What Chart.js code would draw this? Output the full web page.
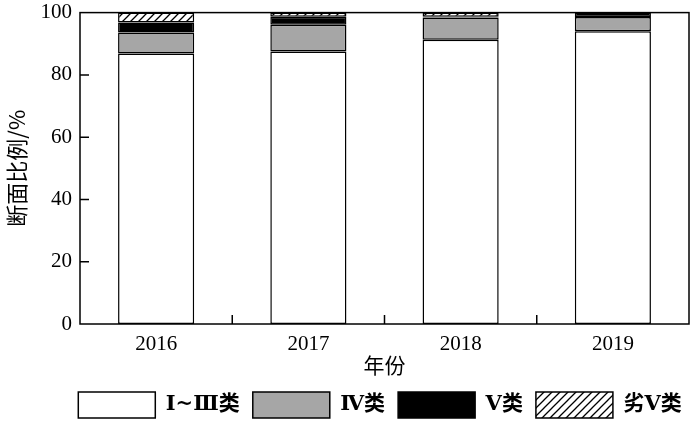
<!DOCTYPE html>
<html>
<head>
<meta charset="utf-8">
<script src="https://cdn.jsdelivr.net/npm/chart.js@4"></script>
<style>
  html, body { margin: 0; padding: 0; background: #fff; }
  #wrap { width: 700px; height: 427px; }
</style>
</head>
<body>
<div id="wrap"><canvas id="chart"></canvas></div>
<script>
const years = ['2016', '2017', '2018', '2019'];
const class1to3 = [86.9, 87.5, 91.3, 94.0];
const class4 = [6.7, 8.6, 7.1, 4.6];
const class5 = [3.2, 2.6, 0.3, 1.4];
const worseThan5 = [3.2, 1.3, 1.3, 0];
const seriesNames = ['Ⅰ~Ⅲ类', 'Ⅳ类', 'Ⅴ类', '劣Ⅴ类'];
const yTicks = [0, 20, 40, 60, 80, 100];

const serif = '"Liberation Serif", "Noto Sans CJK SC", serif';
const cjk = '"Noto Sans CJK SC", "Liberation Serif", sans-serif';
const legendFont = '"DejaVu Serif", "Noto Sans CJK SC", serif';

// diagonal hatch for the last class
function makeHatch() {
    const c = document.createElement('canvas');
    c.width = 8;
    c.height = 8;
    const g = c.getContext('2d');
    g.fillStyle = '#fff';
    g.fillRect(0, 0, 8, 8);
    g.strokeStyle = '#000';
    g.lineWidth = 1.3;
    g.beginPath();
    g.moveTo(-1, 9); g.lineTo(9, -1);
    g.moveTo(-1, 1); g.lineTo(1, -1);
    g.moveTo(7, 9); g.lineTo(9, 7);
    g.stroke();
    return g.createPattern(c, 'repeat');
}

// frame around the plot and inward ticks
const framePlugin = {
    id: 'frame',
    afterLayout(chart) {
        // widen the legend box a bit so the row stays on one line, centred under the plot
        const lg = chart.legend;
        lg.left = 44;
        lg.right = 716;
        lg.top = 379;
    },
    afterDatasetsDraw(chart) {
        const { ctx, chartArea: a, scales } = chart;
        ctx.save();
        ctx.strokeStyle = '#000';
        ctx.lineWidth = 1.5;
        ctx.strokeRect(a.left, a.top, a.right - a.left, a.bottom - a.top);
        ctx.beginPath();
        yTicks.forEach(v => {
            if (v === 0 || v === 100) return;
            const y = scales.y.getPixelForValue(v);
            ctx.moveTo(a.left, y);
            ctx.lineTo(a.left + 9, y);
        });
        for (let i = 0; i < years.length - 1; i++) {
            const x = (scales.x.getPixelForValue(i) + scales.x.getPixelForValue(i + 1)) / 2;
            ctx.moveTo(x, a.bottom);
            ctx.lineTo(x, a.bottom - 9);
        }
        ctx.stroke();
        ctx.restore();
    }
};

const hatch = makeHatch();
const fills = ['#ffffff', '#a6a6a6', '#000000', hatch];
const values = [class1to3, class4, class5, worseThan5];

new Chart(document.getElementById('chart'), {
    type: 'bar',
    data: {
        labels: years,
        datasets: values.map((d, i) => ({
            label: seriesNames[i],
            data: d,
            backgroundColor: fills[i],
            borderColor: '#000',
            borderWidth: 1.5,
            borderSkipped: false,
            categoryPercentage: 0.5,
            barPercentage: 1
        }))
    },
    options: {
        responsive: true,
        maintainAspectRatio: false,
        animation: false,
        layout: { padding: { top: 0, right: 11, left: 0, bottom: 0 } },
        plugins: {
            tooltip: { enabled: false },
            legend: {
                position: 'bottom',
                labels: {
                    boxWidth: 77,
                    boxHeight: 26,
                    padding: 13,
                    color: '#000',
                    font: { family: legendFont, size: 21, weight: 'bold' }
                }
            }
        },
        scales: {
            x: {
                stacked: true,
                grid: { display: false },
                border: { display: false },
                ticks: { color: '#000', padding: 0, font: { family: serif, size: 21 } },
                title: {
                    display: true,
                    text: '年份',
                    color: '#000',
                    padding: { top: 0, bottom: 0 },
                    font: { family: cjk, size: 21 }
                },
                afterFit(s) {
                    s.height = 427 - 324 - s.chart.legend.height;
                }
            },
            y: {
                stacked: true,
                min: 0,
                max: 100,
                grid: { display: false },
                border: { display: false },
                afterBuildTicks(s) {
                    s.ticks = yTicks.map(v => ({ value: v }));
                },
                ticks: { color: '#000', padding: 0, font: { family: serif, size: 21 } },
                title: {
                    display: true,
                    text: '断面比例/%',
                    color: '#000',
                    padding: { top: 3, bottom: 0 },
                    font: { family: cjk, size: 22 }
                },
                afterFit(s) {
                    s.width = 80;
                }
            }
        }
    },
    plugins: [framePlugin]
});
</script>
</body>
</html>
